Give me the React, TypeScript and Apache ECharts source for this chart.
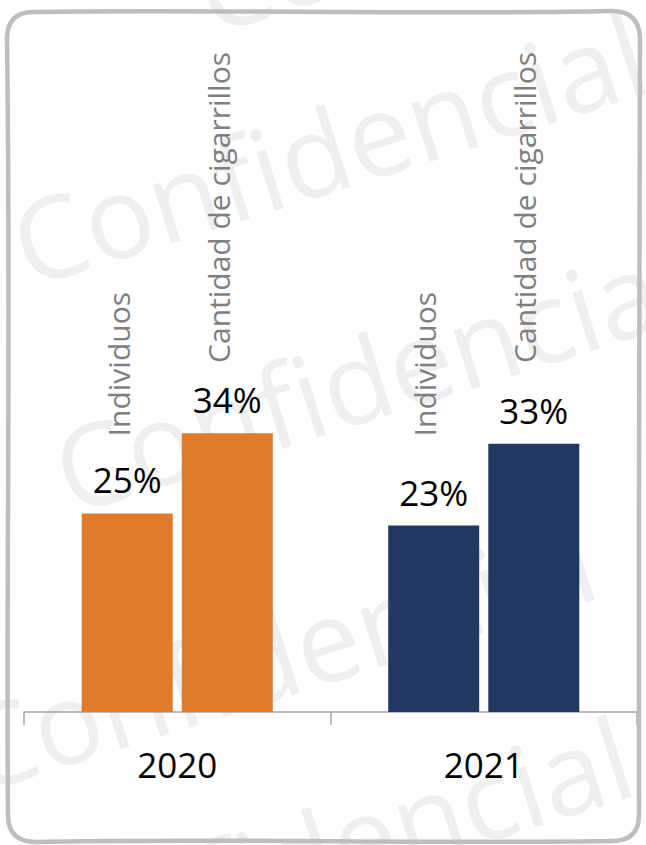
import React, { useEffect, useRef } from "react";
import * as echarts from "echarts";

// ---- data ----
const categories = ["2020", "2021"];
const seriesNames = ["Individuos", "Cantidad de cigarrillos"];
const individuosValues = [24.5, 23.0];
const cantidadValues = [34.4, 33.1];
const categoryColors = ["#E17A29", "#213863"];
const watermarkText = "Confidencial";

const Y_MAX = 85;
const FONT = "'Open Sans', 'Noto Sans', sans-serif";

const BORDER_D =
  "M 33 12 C 200 9, 430 15, 612 11 Q 639 11, 640 38 C 642 260, 637 560, 639 815 Q 639 841, 612 841 C 430 844, 210 838, 36 842 Q 8 842, 8 815 C 6 600, 11 320, 7 40 Q 7 12, 33 12 Z";

let registered = false;
function ensureShapes() {
  if (registered) return;
  registered = true;
  echarts.graphic.registerShape("hdBorder", echarts.graphic.extendPath(BORDER_D, {}));
}

function mainSeries(name: string, values: number[], stack: string) {
  return {
    type: "bar",
    name,
    stack,
    data: values,
    barWidth: 91,
    barGap: "10%",
    itemStyle: { color: (p: any) => categoryColors[p.dataIndex] },
    label: {
      show: true,
      position: "top",
      distance: 16,
      formatter: (p: any) => Math.round(p.value) + "%",
      fontSize: 35,
      color: "#000000",
      fontFamily: FONT,
    },
    z: 3,
  };
}

function nameSeries(name: string, values: number[], stack: string, distance: number) {
  return {
    type: "bar",
    name: name + "_label",
    stack,
    data: values.map((v) => Y_MAX - v),
    barWidth: 91,
    barGap: "10%",
    silent: true,
    itemStyle: { color: "rgba(0,0,0,0)" },
    label: {
      show: true,
      position: "insideTop",
      distance,
      rotate: 90,
      align: "right",
      verticalAlign: "middle",
      offset: [0, -9],
      formatter: () => name,
      fontSize: 30,
      color: "#7f7f7f",
      fontFamily: FONT,
    },
    z: 3,
  };
}

function watermark(x: number, y: number) {
  return {
    type: "text",
    x,
    y,
    rotation: (17.5 * Math.PI) / 180,
    silent: true,
    z: 0,
    style: {
      text: watermarkText,
      fontSize: 114,
      fontFamily: FONT,
      fill: "#efefef",
      align: "left",
      verticalAlign: "middle",
    },
  };
}

export default function App() {
  const ref = useRef<HTMLDivElement>(null);

  useEffect(() => {
    if (!ref.current) return;
    ensureShapes();
    const chart = echarts.init(ref.current, undefined, { renderer: "svg" });
    chart.setOption({
      animation: false,
      backgroundColor: "#ffffff",
      grid: { left: 24, width: 613, top: 23, height: 689 },
      xAxis: {
        type: "category",
        data: categories,
        axisLine: { show: true, lineStyle: { color: "#a6a6a6", width: 1.5 } },
        axisTick: { show: true, length: 13, lineStyle: { color: "#a6a6a6", width: 1.5 } },
        axisLabel: { fontSize: 35, color: "#000000", fontFamily: FONT, margin: 35 },
        splitLine: { show: false },
      },
      yAxis: {
        type: "value",
        min: 0,
        max: Y_MAX,
        show: false,
        splitLine: { show: false },
      },
      graphic: [
        watermark(198, -7),
        watermark(15, 246),
        watermark(57, 473),
        watermark(-36, 752),
        watermark(1, 949),
        {
          type: "hdBorder",
          x: 0,
          y: 0,
          z: 100,
          silent: true,
          style: { fill: "none", stroke: "#bebebe", lineWidth: 4.5 },
        },
      ],
      series: [
        mainSeries(seriesNames[0], individuosValues, "ind"),
        nameSeries(seriesNames[0], individuosValues, "ind", 269),
        mainSeries(seriesNames[1], cantidadValues, "cant"),
        nameSeries(seriesNames[1], cantidadValues, "cant", 29),
      ],
    });
    return () => chart.dispose();
  }, []);

  return (
    <div
      ref={ref}
      style={{ position: "fixed", left: 0, top: 0, width: 646, height: 845, background: "#fff" }}
    />
  );
}
